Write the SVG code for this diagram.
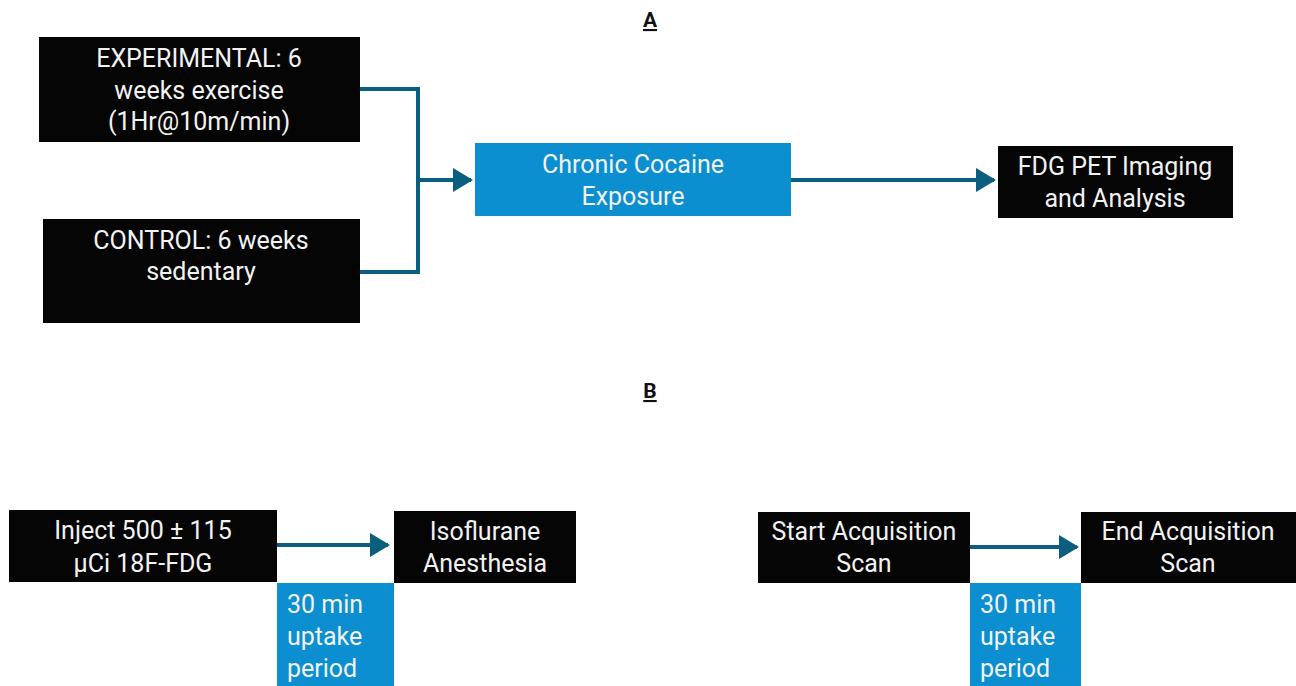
<svg xmlns="http://www.w3.org/2000/svg" width="1296" height="686" viewBox="0 0 1296 686">
<style>
.blk{fill:#050505;}
.blu{fill:#0b8fd0;}
text{font-family:Roboto,"Liberation Sans",sans-serif;font-size:25px;fill:#f2f2f2;}
.c{text-anchor:middle;}
.lbl{font-weight:bold;fill:#111;font-size:21px;text-anchor:middle;text-decoration:underline;}
.con{stroke:#0b5f7e;stroke-width:4;fill:none;}
</style>
<defs>
<marker id="ah" markerWidth="5" markerHeight="6" refX="4.5" refY="3" orient="auto" markerUnits="strokeWidth">
<path d="M0,0 L5,3 L0,6 z" fill="#0b5f7e"/>
</marker>
</defs>
<rect width="1296" height="686" fill="#fff"/>
<text class="lbl" x="650" y="27">A</text>
<text class="lbl" x="650" y="398">B</text>
<g id="connectors">
<path class="con" d="M360,89 H418 V272 H360"/>
<path class="con" d="M418,180 H471" marker-end="url(#ah)"/>
<path class="con" d="M791,180 H994" marker-end="url(#ah)"/>
<path class="con" d="M277,545 H388" marker-end="url(#ah)"/>
<path class="con" d="M970,547 H1077" marker-end="url(#ah)"/>
</g>
<g id="experimental">
<rect class="blk" x="39" y="37" width="321" height="105"/>
<text class="c" x="199" y="67">EXPERIMENTAL: 6</text>
<text class="c" x="199" y="99">weeks exercise</text>
<text class="c" x="199" y="130">(1Hr@10m/min)</text>
</g>
<g id="control">
<rect class="blk" x="43" y="219" width="317" height="104"/>
<text class="c" x="201" y="249">CONTROL: 6 weeks</text>
<text class="c" x="201" y="280">sedentary</text>
</g>
<g id="cocaine">
<rect class="blu" x="475" y="143" width="316" height="73"/>
<text class="c" x="633" y="173">Chronic Cocaine</text>
<text class="c" x="633" y="205">Exposure</text>
</g>
<g id="fdgpet">
<rect class="blk" x="998" y="146" width="235" height="72"/>
<text class="c" x="1115" y="175">FDG PET Imaging</text>
<text class="c" x="1115" y="207">and Analysis</text>
</g>
<g id="inject">
<rect class="blk" x="9" y="510" width="268" height="72"/>
<text class="c" x="143" y="539">Inject 500 ± 115</text>
<text class="c" x="143" y="572">µCi 18F-FDG</text>
</g>
<g id="isoflurane">
<rect class="blk" x="394" y="511" width="182" height="72"/>
<text class="c" x="485" y="540">Isoflurane</text>
<text class="c" x="485" y="572">Anesthesia</text>
</g>
<g id="uptake1">
<rect class="blu" x="277" y="583" width="117" height="103"/>
<text x="287" y="613">30 min</text>
<text x="287" y="645">uptake</text>
<text x="287" y="677">period</text>
</g>
<g id="startscan">
<rect class="blk" x="758" y="512" width="212" height="71"/>
<text class="c" x="864" y="540">Start Acquisition</text>
<text class="c" x="864" y="572">Scan</text>
</g>
<g id="endscan">
<rect class="blk" x="1081" y="512" width="215" height="71"/>
<text class="c" x="1188" y="540">End Acquisition</text>
<text class="c" x="1188" y="572">Scan</text>
</g>
<g id="uptake2">
<rect class="blu" x="970" y="583" width="111" height="103"/>
<text x="980" y="613">30 min</text>
<text x="980" y="645">uptake</text>
<text x="980" y="677">period</text>
</g>
</svg>
